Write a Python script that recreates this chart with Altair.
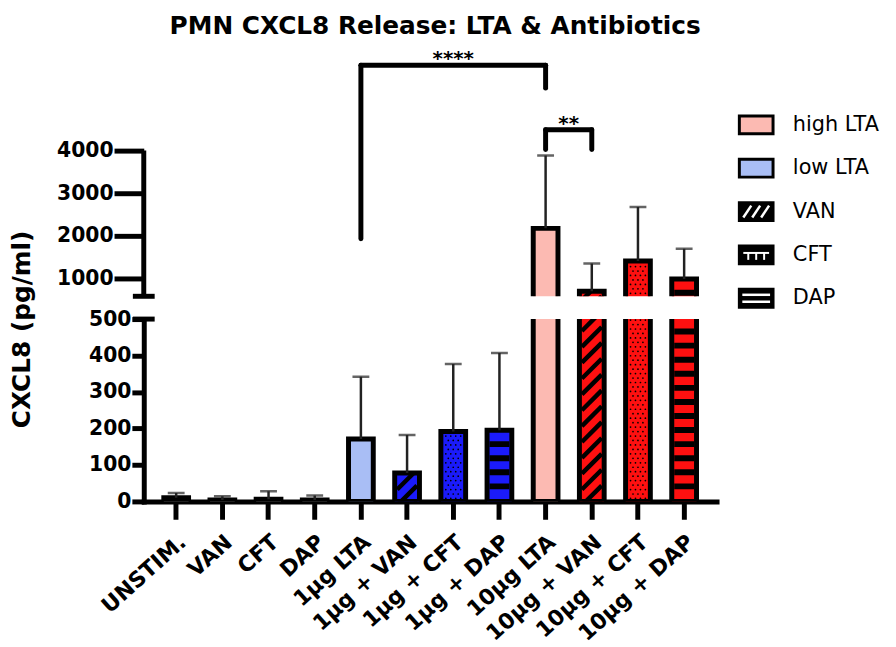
import altair as alt
import pandas as pd

# ---------------- data ----------------
categories = ["UNSTIM.", "VAN", "CFT", "DAP", "1µg LTA", "1µg + VAN", "1µg + CFT",
              "1µg + DAP", "10µg LTA", "10µg + VAN", "10µg + CFT", "10µg + DAP"]
means = [10, 4, 6, 4, 171, 78, 192, 195, 2174, 698, 1407, 988]
err_tops = [23, 14, 28, 16, 342, 182, 377, 407, 3884, 1349, 2674, 1698]
bar_groups = ["control", "control", "control", "control",
              "low LTA", "low LTA + antibiotic", "low LTA + antibiotic", "low LTA + antibiotic",
              "high LTA", "high LTA + antibiotic", "high LTA + antibiotic", "high LTA + antibiotic"]
bar_patterns = ["none", "none", "none", "none",
                "none", "VAN", "CFT", "DAP",
                "none", "VAN", "CFT", "DAP"]

low_ticks = [0, 100, 200, 300, 400, 500]
up_ticks = [1000, 2000, 3000, 4000]

bracket_start = ["1µg LTA", "10µg LTA"]
bracket_end = ["10µg LTA", "10µg + VAN"]
bracket_level = [6000, 4488]
bracket_start_foot = [1930, 4023]
bracket_end_foot = [5465, 4023]
bracket_text = ["****", "**"]

legend_labels = ["high LTA", "low LTA", "VAN", "CFT", "DAP"]
legend_fills = ["#FCBAB2", "#A9BEF5", "#000000", "#000000", "#000000"]

# ---------------- style ----------------
FONT = "DejaVu Sans"
group_colors = {"control": "#FFFFFF", "low LTA": "#A9BEF5", "low LTA + antibiotic": "#1B1BFA",
                "high LTA": "#FCBAB2", "high LTA + antibiotic": "#FE1010"}
W = 578
H_UP, H_LO, GAP = 260, 184, 23
LO_DOMAIN = [0, 500]
UP_DOMAIN = [580, 6627]
P_INNER, P_OUTER = 0.464, 0.434
STEP = W / (len(categories) - P_INNER + 2 * P_OUTER)
HALF_IN = 10

bars = pd.DataFrame({"cat": categories, "mean": means, "top": err_tops,
                     "fill": [group_colors[g] for g in bar_groups],
                     "pattern": bar_patterns})

xscale = alt.Scale(domain=categories, paddingInner=P_INNER, paddingOuter=P_OUTER)


def panel(lo, hi, height, upper):
    ppu = height / (hi - lo)
    ys = alt.Scale(domain=[lo, hi], nice=False, zero=False)
    if upper:
        yaxis = alt.Axis(values=up_ticks, format="d", domain=False, tickSize=30, tickWidth=5,
                         labelFontSize=20.5, labelFontWeight="bold", labelPadding=1, grid=False)
        ytitle = None
        xaxis = None
    else:
        yaxis = alt.Axis(values=low_ticks, format="d", tickSize=12, tickWidth=5, domainWidth=5,
                         domainCap="square", labelFontSize=20.5, labelFontWeight="bold",
                         labelPadding=1, grid=False,
                         titleFontSize=25, titleFontWeight="bold", titleX=-110, titleY=10)
        ytitle = "CXCL8 (pg/ml)"
        xaxis = alt.Axis(labelAngle=-42, labelFontSize=22, labelFontWeight="bold", tickSize=18,
                         tickWidth=5, domainWidth=5, domainCap="square", labelPadding=12,
                         grid=False)

    def X(f="cat"):
        return alt.X(f, type="nominal", scale=xscale, axis=xaxis, title=None)

    def Y(f):
        return alt.Y(f, type="quantitative", scale=ys, axis=yaxis, title=ytitle)

    # pattern geometry derived from the bar values
    rise, gap = 20 / ppu, 16 / ppu
    van, dots, stripes = [], [], []
    for c, m, p in zip(categories, means, bar_patterns):
        if p == "VAN":
            v = lo - rise
            while v <= min(m, hi):
                van.append({"cat": c, "y0": v, "y1": v + rise})
                v += gap
        elif p == "CFT":
            v, r = lo + 3 / ppu, 0
            while v <= min(m - 4 / ppu, hi):
                dots.append({"cat": c, "y": v, "row": r % 2})
                v += 4.5 / ppu
                r += 1
        elif p == "DAP":
            v = lo + (3.6 if upper else 15.2) / ppu
            while v <= min(m - 10 / ppu, hi):
                stripes.append({"cat": c, "y": v})
                v += 14.2 / ppu
    van_df, dots_df, stripes_df = pd.DataFrame(van), pd.DataFrame(dots), pd.DataFrame(stripes)
    mask_df = bars[bars["pattern"] == "VAN"].assign(mtop=lambda d: d["mean"] + rise + 6 / ppu)

    layers = [
        alt.Chart(bars).mark_bar(clip=True, strokeWidth=0).encode(
            x=X(), y=Y("mean"), y2=alt.datum(0), fill=alt.Fill("fill:N", scale=None)),
        alt.Chart(van_df).mark_rule(clip=True, color="black", strokeWidth=4.5,
                                    xOffset=-HALF_IN, x2Offset=HALF_IN).encode(
            x=X(), x2=alt.X2("cat"), y=Y("y0"), y2=alt.Y2("y1")),
        alt.Chart(stripes_df).mark_rule(clip=True, color="black", strokeWidth=6,
                                        xOffset=-HALF_IN, x2Offset=HALF_IN).encode(
            x=X(), x2=alt.X2("cat"), y=Y("y")),
    ]
    for parity, offsets in ((0, [-7.5, -2.5, 2.5, 7.5]), (1, [-5, 0, 5])):
        for dx in offsets:
            layers.append(alt.Chart(dots_df).transform_filter(alt.datum.row == parity).mark_circle(
                clip=True, size=3, color="black", opacity=1, xOffset=dx).encode(x=X(), y=Y("y")))
    layers += [
        alt.Chart(mask_df).mark_bar(clip=True, fill="white", strokeWidth=0).encode(
            x=X(), y=Y("mean"), y2=alt.Y2("mtop")),
        alt.Chart(bars).mark_bar(clip=True, fillOpacity=0, stroke="black", strokeWidth=5).encode(
            x=X(), y=Y("mean"), y2=alt.datum(0)),
        alt.Chart(bars).mark_rule(clip=True, color="#222222", strokeWidth=2.5).encode(
            x=X(), y=Y("mean"), y2=alt.Y2("top")),
        alt.Chart(bars).mark_tick(clip=True, color="#222222", thickness=2.5, size=17).encode(
            x=X(), y=Y("top")),
    ]
    if upper:
        axis_df = pd.DataFrame({"a": [lo], "b": [max(up_ticks)]})
        layers += [
            alt.Chart(axis_df).mark_rule(color="black", strokeWidth=5).encode(
                x=alt.value(0), y=Y("a"), y2=alt.Y2("b")),
            alt.Chart(axis_df).mark_rule(color="black", strokeWidth=5).encode(
                x=alt.value(-11), x2=alt.value(11), y=Y("a")),
        ]
        br = pd.DataFrame({"start": bracket_start, "end": bracket_end, "level": bracket_level,
                           "sfoot": bracket_start_foot, "efoot": bracket_end_foot,
                           "txt": bracket_text})
        layers += [
            alt.Chart(br).mark_rule(color="black", strokeWidth=5, strokeCap="round").encode(
                x=X("start"), x2=alt.X2("end"), y=Y("level")),
            alt.Chart(br).mark_rule(color="black", strokeWidth=5, strokeCap="round").encode(
                x=X("start"), y=Y("sfoot"), y2=alt.Y2("level")),
            alt.Chart(br).mark_rule(color="black", strokeWidth=5, strokeCap="round").encode(
                x=X("end"), y=Y("efoot"), y2=alt.Y2("level")),
        ]
        for i in range(len(bracket_text)):
            span = categories.index(bracket_end[i]) - categories.index(bracket_start[i])
            layers.append(
                alt.Chart(br.iloc[[i]]).mark_text(font=FONT, fontWeight="bold", fontSize=20,
                                                 align="center", baseline="alphabetic",
                                                 dx=span * STEP / 2, color="black").encode(
                    x=X("start"), y=Y("level"), text="txt:N"))
    else:
        cap_df = pd.DataFrame({"a": [hi]})
        layers.append(alt.Chart(cap_df).mark_rule(color="black", strokeWidth=5).encode(
            x=alt.value(-11), x2=alt.value(11), y=Y("a")))
    return alt.layer(*layers).properties(width=W, height=height)


upper = panel(UP_DOMAIN[0], UP_DOMAIN[1], H_UP, True)
lower = panel(LO_DOMAIN[0], LO_DOMAIN[1], H_LO, False)

# ---------------- legend ----------------
leg = pd.DataFrame({"idx": list(range(len(legend_labels))), "label": legend_labels,
                    "fill": legend_fills})
yl = alt.Y("idx:Q", scale=alt.Scale(domain=[0, 4], range=[87, 262]), axis=None)
leg_layers = [
    alt.Chart(leg).mark_rect(stroke="black", strokeWidth=3, yOffset=-9, y2Offset=9).encode(
        x=alt.value(2), x2=alt.value(36), y=yl, y2=alt.Y2("idx"),
        fill=alt.Fill("fill:N", scale=None)),
    alt.Chart(leg).mark_text(font=FONT, fontSize=21, align="left", baseline="middle",
                             color="black").encode(x=alt.value(56), y=yl, text="label:N"),
]
# VAN swatch: white diagonal lines
for xc in (10, 19, 28):
    leg_layers.append(alt.Chart(leg).transform_filter(alt.datum.label == "VAN").mark_rule(
        color="white", strokeWidth=2.5, yOffset=6, y2Offset=-6).encode(
        x=alt.value(xc - 4), x2=alt.value(xc + 4), y=yl, y2=alt.Y2("idx")))
# CFT swatch
leg_layers.append(alt.Chart(leg).transform_filter(alt.datum.label == "CFT").mark_rule(
    color="white", strokeWidth=2, yOffset=-2).encode(x=alt.value(6), x2=alt.value(32), y=yl))
for xc in (11, 19, 27):
    leg_layers.append(alt.Chart(leg).transform_filter(alt.datum.label == "CFT").mark_rule(
        color="white", strokeWidth=2, yOffset=-2, y2Offset=5).encode(
        x=alt.value(xc), y=yl, y2=alt.Y2("idx")))
# DAP swatch
for off in (-3.5, 3.5):
    leg_layers.append(alt.Chart(leg).transform_filter(alt.datum.label == "DAP").mark_rule(
        color="white", strokeWidth=2.5, yOffset=off).encode(x=alt.value(5), x2=alt.value(33), y=yl))
legend = alt.layer(*leg_layers).properties(width=150, height=280)

chart = alt.hconcat(
    alt.vconcat(upper, lower, spacing=GAP, bounds="flush"),
    legend,
    spacing=21,
).properties(
    title=alt.TitleParams("PMN CXCL8 Release: LTA & Antibiotics", font=FONT, fontSize=25,
                          fontWeight="bold", anchor="middle", offset=0, dx=-13, color="black"),
    padding={"left": 2, "top": 3, "right": 2, "bottom": 0},
).configure_view(stroke=None).configure_axis(
    labelFont=FONT, titleFont=FONT, labelColor="black", titleColor="black",
    tickColor="black", domainColor="black")

chart.save("out.html", embed_options={"renderer": "svg", "actions": False})
